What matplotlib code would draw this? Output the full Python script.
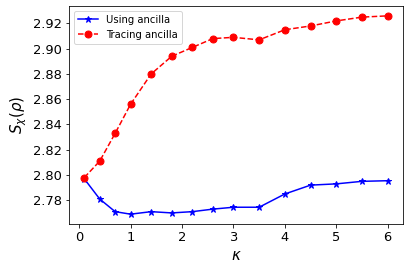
import matplotlib
matplotlib.use('Agg')
import matplotlib.pyplot as plt
from matplotlib.ticker import MultipleLocator

kappa = [0.1, 0.4, 0.7, 1.0, 1.4, 1.8, 2.2, 2.6, 3.0, 3.5, 4.0, 4.5, 5.0, 5.5, 6.0]
using_ancilla = [2.797, 2.781, 2.771, 2.769, 2.771, 2.770, 2.771, 2.773, 2.7745, 2.7745,
                 2.785, 2.792, 2.793, 2.795, 2.7955]
tracing_ancilla = [2.798, 2.811, 2.833, 2.856, 2.880, 2.894, 2.901, 2.908, 2.909, 2.907,
                   2.915, 2.918, 2.922, 2.925, 2.926]

fig = plt.figure(figsize=(409/72, 270/72), dpi=72)
ax = fig.add_axes([0.169, 0.170, 0.816, 0.808])
ax.plot(kappa, using_ancilla, 'b*-', markersize=7, label='Using ancilla')
ax.plot(kappa, tracing_ancilla, 'ro--', markersize=7, label='Tracing ancilla')
ax.set_xlabel(r'$\kappa$', fontsize=15)
ax.set_ylabel(r'$S_\chi(\rho)$', fontsize=15)
ax.yaxis.set_major_locator(MultipleLocator(0.02))
ax.tick_params(labelsize=13)
ax.legend(loc='upper left', fontsize=10)
fig.savefig('out.png', dpi=72)
